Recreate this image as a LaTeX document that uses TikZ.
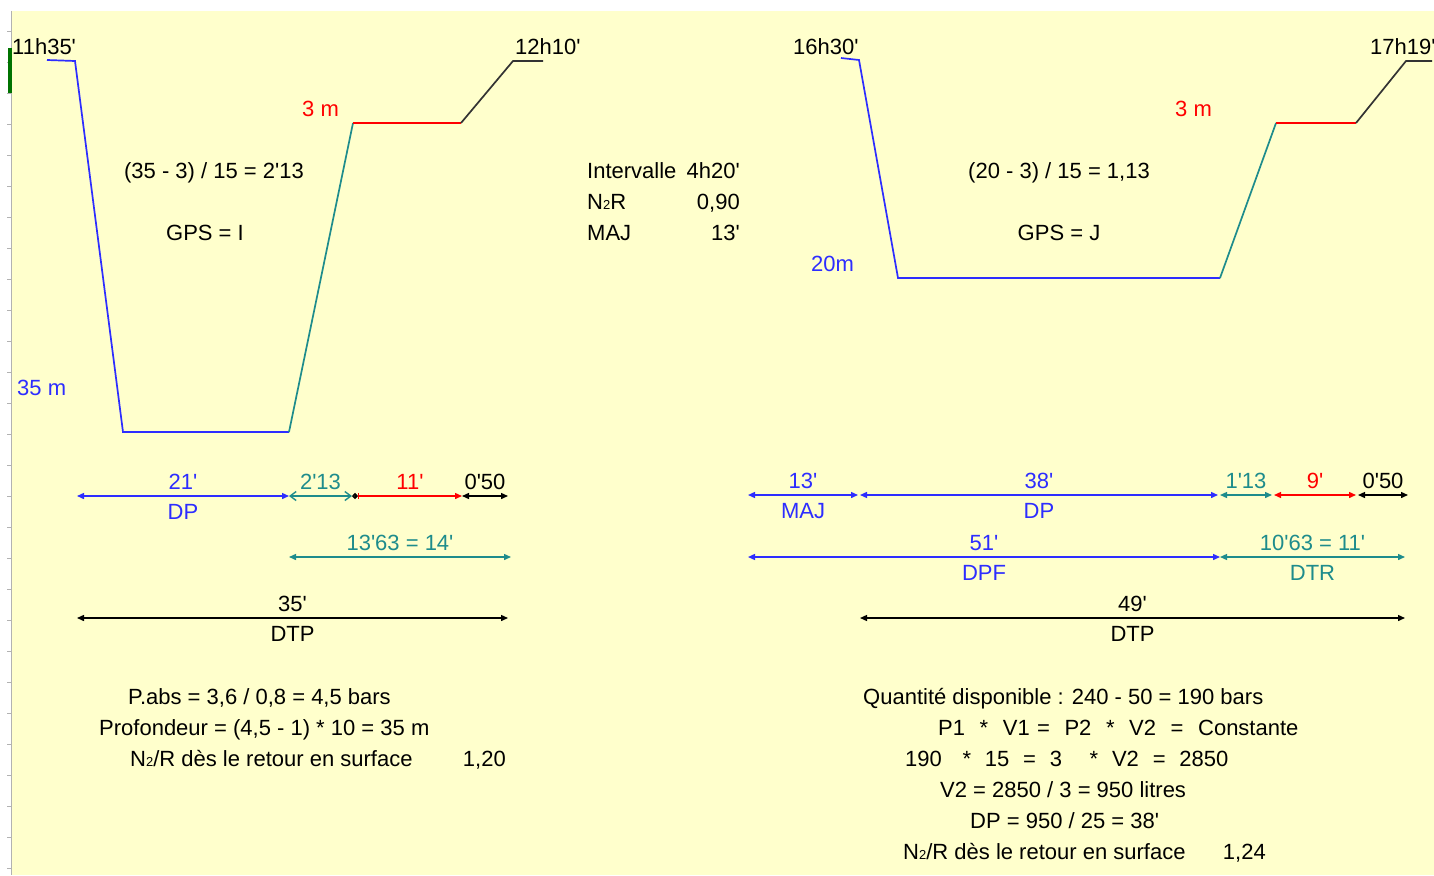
\documentclass[tikz,border=0pt]{standalone}
\usepackage{fontspec}
\setmainfont{Liberation Sans}
\usetikzlibrary{arrows.meta}
\definecolor{paper}{RGB}{255,255,204}
\definecolor{diveblue}{RGB}{45,45,255}
\definecolor{ascteal}{RGB}{30,140,140}
\newcommand{\mn}{\textquotesingle}
\newcommand{\Ntwo}{N{\fontsize{13}{13}\selectfont 2}}
\newcommand{\ws}{\hspace{7.3pt}}
\newcommand{\wn}{\hspace{6.9pt}}

\begin{document}
\begin{tikzpicture}[x=1pt, y=-1pt, >={Triangle[length=7pt,width=6pt]},
  txt/.style={inner sep=0pt, font=\fontsize{22}{24}\selectfont},
  uplbl/.style={txt, midway, anchor=base, yshift=7pt},
  lowlbl/.style={txt, midway, anchor=base, yshift=-23pt},
  prof/.style={line width=1.7pt},
  dim/.style={<->, line width=1.4pt}]
  % Sheet background and row header strip
  \useasboundingbox (0,0) rectangle (1434,875);
  \fill[white] (0,0) rectangle (1434,875);
  \fill[paper] (11,11) rectangle (1434,875);
  \draw[gray!60, line width=1pt] (11,11) -- (11,875);
  \foreach \y in {31,62,...,868}
    \draw[gray!60] (7,\y) -- (11,\y);
  \fill[green!45!black] (8,48) rectangle (11.5,93);

  % First dive profile
  \coordinate (La) at (47,60);
  \coordinate (Lb) at (75,61);
  \coordinate (Lc) at (123,432);
  \coordinate (Ld) at (289,432);
  \coordinate (Le) at (353,123);
  \coordinate (Lf) at (461,123);
  \coordinate (Lg) at (513,61);
  \coordinate (Lh) at (543,61);
  \draw[prof, diveblue] (La) -- (Lb) -- (Lc) -- (Ld);
  \draw[prof, ascteal] (Ld) -- (Le);
  \draw[prof, red] (Le) -- (Lf);
  \draw[prof, black!80] (Lf) -- (Lg) -- (Lh);

  \node[txt, anchor=base west] (t1135) at (12,55) {11h35\mn};
  \node[txt, anchor=base west] (t1210) at (515,55) {12h10\mn};
  \node[txt, anchor=base west, red] (palL) at (302,116) {3 m};
  \node[txt, anchor=base west, diveblue] (depL) at (17,395) {35 m};
  \node[txt, anchor=base] (ascL) at (214,178) {(35 - 3) / 15 = 2\mn13};
  \node[txt, anchor=base] (gpsL) at (205,240) {GPS = I};

  % Surface interval
  \node[txt, anchor=base west] (intv) at (587,178) {Intervalle};
  \node[txt, anchor=base east] (intvv) at (740,178) {4h20\mn};
  \node[txt, anchor=base west] (n2r) at (587,209) {\Ntwo R};
  \node[txt, anchor=base east] (n2rv) at (740,209) {0,90};
  \node[txt, anchor=base west] (maj) at (587,240) {MAJ};
  \node[txt, anchor=base east] (majv) at (740,240) {13\mn};

  % Second dive profile
  \coordinate (Ra) at (841,58);
  \coordinate (Rb) at (859,60);
  \coordinate (Rc) at (898,278);
  \coordinate (Rd) at (1220,278);
  \coordinate (Re) at (1276,123);
  \coordinate (Rf) at (1356,123);
  \coordinate (Rg) at (1406,61);
  \coordinate (Rh) at (1432,61);
  \draw[prof, diveblue] (Ra) -- (Rb) -- (Rc) -- (Rd);
  \draw[prof, ascteal] (Rd) -- (Re);
  \draw[prof, red] (Re) -- (Rf);
  \draw[prof, black!80] (Rf) -- (Rg) -- (Rh);

  \node[txt, anchor=base west] (t1630) at (793,55) {16h30\mn};
  \node[txt, anchor=base west] (t1719) at (1370,55) {17h19\mn};
  \node[txt, anchor=base west, red] (palR) at (1175,116) {3 m};
  \node[txt, anchor=base west, diveblue] (depR) at (811,271) {20m};
  \node[txt, anchor=base] (ascR) at (1059,178) {(20 - 3) / 15 = 1,13};
  \node[txt, anchor=base] (gpsR) at (1059,240) {GPS = J};

  % Time bars, first dive
  \coordinate (A0) at (77,496);
  \coordinate (A1) at (289,496);
  \coordinate (A2) at (352,496);
  \coordinate (A3) at (358,496);
  \coordinate (A4) at (462,496);
  \coordinate (A5) at (508,496);
  \draw[dim, diveblue] (A0) -- (A1)
    node[uplbl] (dpL) {21\mn} node[lowlbl] (dpLn) {DP};
  \draw[line width=1.4pt, ascteal, {Straight Barb[length=6pt,width=9pt]}-{Straight Barb[length=6pt,width=9pt]}] (A1) -- (A2)
    node[uplbl] (remL) {2\mn13};
  \draw[line width=1.4pt, {Triangle[length=3pt,width=6pt]}-{Triangle[length=3pt,width=6pt]}] (A2) -- (A3);
  \draw[line width=1.4pt, red, {Bar[width=6pt]}->] (A3) -- (A4)
    node[uplbl] (palLt) {11\mn};
  \draw[dim, black] (A4) -- (A5)
    node[uplbl] (surfL) {0\mn50};

  \coordinate (B0) at (289,557);
  \coordinate (B1) at (511,557);
  \draw[dim, ascteal] (B0) -- (B1)
    node[uplbl] (dtrL) {13\mn63 = 14\mn};

  \coordinate (C0) at (77,618);
  \coordinate (C1) at (508,618);
  \draw[dim, black] (C0) -- (C1)
    node[uplbl] (dtpL) {35\mn} node[lowlbl] (dtpLn) {DTP};

  % Time bars, second dive
  \coordinate (D0) at (748,495);
  \coordinate (D1) at (858,495);
  \coordinate (D2) at (860,495);
  \coordinate (D3) at (1218,495);
  \coordinate (D4) at (1220,495);
  \coordinate (D5) at (1272,495);
  \coordinate (D6) at (1274,495);
  \coordinate (D7) at (1356,495);
  \coordinate (D8) at (1358,495);
  \coordinate (D9) at (1408,495);
  \draw[dim, diveblue] (D0) -- (D1)
    node[uplbl] (majR) {13\mn} node[lowlbl] (majRn) {MAJ};
  \draw[dim, diveblue] (D2) -- (D3)
    node[uplbl] (dpR) {38\mn} node[lowlbl] (dpRn) {DP};
  \draw[dim, ascteal] (D4) -- (D5)
    node[uplbl] (remR) {1\mn13};
  \draw[dim, red] (D6) -- (D7)
    node[uplbl] (palRt) {9\mn};
  \draw[dim, black] (D8) -- (D9)
    node[uplbl] (surfR) {0\mn50};

  \coordinate (E0) at (748,557);
  \coordinate (E1) at (1220,557);
  \coordinate (E2) at (1405,557);
  \draw[dim, diveblue] (E0) -- (E1)
    node[uplbl] (dpfR) {51\mn} node[lowlbl] (dpfRn) {DPF};
  \draw[dim, ascteal] (E1) -- (E2)
    node[uplbl] (dtrR) {10\mn63 = 11\mn} node[lowlbl] (dtrRn) {DTR};

  \coordinate (F0) at (860,618);
  \coordinate (F1) at (1405,618);
  \draw[dim, black] (F0) -- (F1)
    node[uplbl] (dtpR) {49\mn} node[lowlbl] (dtpRn) {DTP};

  % Calculations, first dive
  \node[txt, anchor=base west] (pabs) at (128,704) {P.abs = 3,6 / 0,8 = 4,5 bars};
  \node[txt, anchor=base west] (prof) at (99,735) {Profondeur = (4,5 - 1) * 10 = 35 m};
  \node[txt, anchor=base west] (n2L) at (130,766) {\Ntwo/R dès le retour en surface};
  \node[txt, anchor=base east] (n2Lv) at (506,766) {1,20};

  % Calculations, second dive
  \node[txt, anchor=base west] (qte) at (863,704) {Quantité disponible : 240 - 50 = 190 bars};
  \node[txt, anchor=base west] (mar) at (938,735) {P1\ws\ws*\ws\ws V1\ws=\ws\ws P2\ws\ws*\ws\ws V2\ws\ws=\ws\ws Constante};
  \node[txt, anchor=base west] (marn) at (905,766) {190\wn\wn\wn*\wn\wn 15\wn\wn=\wn\wn 3\wn\wn\wn\wn*\wn\wn V2\wn\wn=\wn\wn 2850};
  \node[txt, anchor=base west] (vol) at (940,797) {V2 = 2850 / 3 = 950 litres};
  \node[txt, anchor=base west] (dpc) at (970,828) {DP = 950 / 25 = 38\mn};
  \node[txt, anchor=base west] (n2R) at (903,859) {\Ntwo/R dès le retour en surface};
  \node[txt, anchor=base east] (n2Rv) at (1266,859) {1,24};
\end{tikzpicture}
\end{document}
